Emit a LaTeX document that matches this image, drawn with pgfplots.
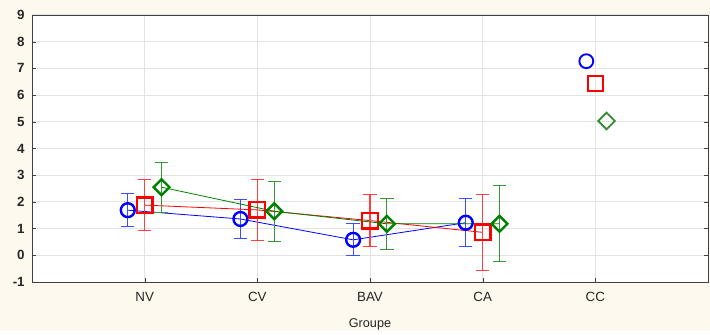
\documentclass[border=0pt]{standalone}
\usepackage{pgfplots}
\pgfplotsset{compat=1.18}
\usepackage{fontspec}
\setmainfont{Liberation Sans}
\definecolor{cream}{HTML}{FDF9EF}
\definecolor{gridgray}{HTML}{E3E3E3}
\definecolor{sblue}{HTML}{0000FF}
\definecolor{barblue}{HTML}{3A4DFF}
\definecolor{sgreen}{HTML}{008000}
\definecolor{ccgreen}{HTML}{3C8A3C}
\begin{document}
\begin{tikzpicture}
  % page background (710 x 331 px at 0.75pt/px)
  \fill[cream] (-24pt,-36.75pt) rectangle (508.5pt,211.5pt);
  \begin{axis}[
      at={(0,0)}, anchor=south west,
      scale only axis,
      width=507pt, height=200.25pt,
      xmin=0, xmax=6, ymin=-1, ymax=9,
      xtick={1,2,3,4,5},
      xticklabels={NV,CV,BAV,CA,CC},
      ytick={-1,0,...,9},
      xtick pos=bottom, ytick pos=both,
      tick align=inside,
      major tick length=3pt,
      grid=major,
      grid style={gridgray, line width=0.75pt},
      axis line style={black!75, line width=0.6pt},
      tick style={black!75},
      axis background/.style={fill=white},
      tick label style={font=\fontsize{10}{12}\selectfont, text=black!85},
      xticklabel style={yshift=-4pt},
      yticklabel style={font=\fontsize{10}{12}\selectfont\bfseries, xshift=-2pt},
      /pgf/number format/assume math mode=true,
      xlabel={Groupe},
      xlabel style={font=\fontsize{9.5}{11}\selectfont, text=black!85, yshift=-6pt},
      clip=false,
    ]
    % blue: circles
    \addplot[sblue, line width=0.6pt, mark=o,
      mark options={draw=sblue, line width=1.8pt, mark size=5.2pt},
      error bars/.cd, y dir=both, y explicit,
      error bar style={draw=barblue, line width=0.8pt},
      error mark options={rotate=90, mark size=5pt, draw=barblue, line width=0.8pt}]
      coordinates{
        (0.85,1.69) +- (0,0.61)
        (1.85,1.36) +- (0,0.72)
        (2.85,0.58) +- (0,0.60)
        (3.85,1.22) +- (0,0.90)};
    % red: squares
    \addplot[red, line width=0.6pt, mark=square,
      mark options={draw=red, line width=1.8pt, mark size=5.8pt},
      error bars/.cd, y dir=both, y explicit,
      error bar style={draw=red!75, line width=0.8pt},
      error mark options={rotate=90, mark size=5pt, draw=red!75, line width=0.8pt}]
      coordinates{
        (1.00,1.88) +- (0,0.95)
        (2.00,1.70) +- (0,1.14)
        (3.00,1.30) +- (0,0.97)
        (4.00,0.86) +- (0,1.43)};
    % green: diamonds
    \addplot[sgreen, line width=0.6pt, mark=square,
      mark options={draw=sgreen, line width=1.8pt, mark size=4.2pt, rotate=45},
      error bars/.cd, y dir=both, y explicit,
      error bar style={draw=sgreen!80, line width=0.8pt},
      error mark options={rotate=90, mark size=5pt, draw=sgreen!80, line width=0.8pt}]
      coordinates{
        (1.15,2.55) +- (0,0.93)
        (2.15,1.65) +- (0,1.13)
        (3.15,1.18) +- (0,0.96)
        (4.15,1.18) +- (0,1.42)};
    % CC group, markers only
    \addplot[only marks, sblue, mark=o, mark options={line width=1.4pt, mark size=5.2pt}]
      coordinates{(4.92,7.27)};
    \addplot[only marks, red, mark=square, mark options={line width=1.4pt, mark size=5.6pt}]
      coordinates{(5.00,6.43)};
    \addplot[only marks, ccgreen, mark=square, mark options={line width=1.4pt, mark size=4.4pt, rotate=45}]
      coordinates{(5.10,5.03)};
  \end{axis}
\end{tikzpicture}
\end{document}
